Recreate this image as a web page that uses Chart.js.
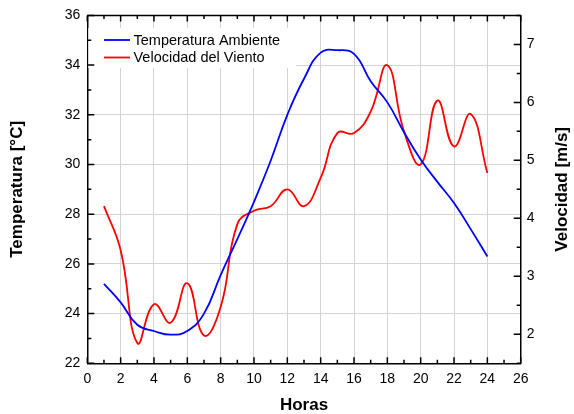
<!DOCTYPE html>
<html>
<head>
<meta charset="utf-8">
<script src="https://cdn.jsdelivr.net/npm/chart.js@4"></script>
<style>
  html, body { margin: 0; padding: 0; background: #fff; }
  #wrap { width: 574px; height: 414px; }
</style>
</head>
<body>
<div id="wrap"><canvas id="chart"></canvas></div>
<script>
const horas = [1, 2, 3, 4, 5, 6, 7, 8, 9, 10, 11, 12, 13, 14, 15, 16, 17, 18, 19, 20, 21, 22, 23, 24];
const temperatura = [25.2, 24.45, 23.55, 23.3, 23.15, 23.3, 24.0, 25.55, 27.0, 28.5, 30.15, 32.0,
  33.45, 34.5, 34.6, 34.45, 33.35, 32.5, 31.3, 30.2, 29.3, 28.45, 27.4, 26.3];
const velocidad = [4.21, 3.45, 1.85, 2.52, 2.2, 2.88, 1.98, 2.47, 3.9, 4.13, 4.21, 4.5,
  4.21, 4.7, 5.47, 5.47, 5.84, 6.64, 5.5, 4.93, 6.03, 5.24, 5.8, 4.78];
const ticksVelocidad = [2, 3, 4, 5, 6, 7];
const leyenda = ["Temperatura Ambiente", "Velocidad del Viento"];
const colores = ["#0000ff", "#ff0000"];

const FONT = "'Liberation Sans', Arial, sans-serif";

function pts(ys) {
  return horas.map((h, i) => ({ x: h, y: ys[i] }));
}

function range(a, b, step) {
  const out = [];
  for (let v = a; v <= b + 1e-9; v += step) out.push(v);
  return out;
}

// inward tick marks, top frame line, legend and axis titles
const frame = {
  id: "frame",
  beforeDatasetsDraw(chart) {
    const ctx = chart.ctx;
    ctx.save();
    ctx.fillStyle = "#fff";
    ctx.fillRect(chart.chartArea.left + 1, 28, 296 - chart.chartArea.left - 1, 40);
    ctx.restore();
  },
  afterDraw(chart) {
    const { ctx, chartArea: a, scales } = chart;
    ctx.save();
    ctx.strokeStyle = "#000";
    ctx.lineWidth = 1.5;

    ctx.beginPath();
    ctx.moveTo(a.left, a.top);
    ctx.lineTo(a.right, a.top);
    ctx.stroke();

    const mark = (vals, len, fn) => {
      ctx.beginPath();
      vals.forEach(v => fn(v, len));
      ctx.stroke();
    };
    const xT = (v, len) => {
      const px = scales.x.getPixelForValue(v);
      ctx.moveTo(px, a.bottom); ctx.lineTo(px, a.bottom - len);
      ctx.moveTo(px, a.top); ctx.lineTo(px, a.top + len);
    };
    const yT = (v, len) => {
      const py = scales.y.getPixelForValue(v);
      ctx.moveTo(a.left, py); ctx.lineTo(a.left + len, py);
    };
    const y1T = (v, len) => {
      const py = scales.y1.getPixelForValue(v);
      ctx.moveTo(a.right, py); ctx.lineTo(a.right - len, py);
    };
    mark(range(0, 26, 2), 6, xT);
    mark(range(1, 25, 2), 3.5, xT);
    mark(range(22, 36, 2), 7, yT);
    mark(range(23, 35, 2), 4, yT);
    mark(ticksVelocidad, 7, y1T);
    mark(range(1.5, 7.5, 1), 4, y1T);

    // legend
    const ly = [40, 57.5];
    leyenda.forEach((t, i) => {
      ctx.strokeStyle = colores[i];
      ctx.lineWidth = 1.8;
      ctx.beginPath();
      ctx.moveTo(104, ly[i]);
      ctx.lineTo(130, ly[i]);
      ctx.stroke();
      ctx.fillStyle = "#000";
      ctx.font = "14.5px " + FONT;
      ctx.textAlign = "left";
      ctx.textBaseline = "middle";
      ctx.fillText(t, 133.5, ly[i] + 0.5);
    });

    // axis titles
    ctx.fillStyle = "#000";
    ctx.font = "bold 17px " + FONT;
    ctx.textAlign = "center";
    ctx.textBaseline = "middle";
    const cy = (a.top + a.bottom) / 2;
    ctx.fillText("Horas", (a.left + a.right) / 2, 405);
    ctx.save();
    ctx.translate(17, cy);
    ctx.rotate(-Math.PI / 2);
    ctx.fillText("Temperatura [°C]", 0, 0);
    ctx.restore();
    ctx.save();
    ctx.translate(562, cy);
    ctx.rotate(-Math.PI / 2);
    ctx.fillText("Velocidad [m/s]", 0, 0);
    ctx.restore();
    ctx.restore();
  }
};

const tickFont = { family: FONT, size: 14 };
const gridColor = "#d3d3d3";

new Chart(document.getElementById("chart"), {
  type: "line",
  data: {
    datasets: [
      {
        label: leyenda[0],
        data: pts(temperatura),
        yAxisID: "y",
        borderColor: colores[0],
        borderWidth: 1.8,
        pointRadius: 0,
        tension: 0.45,
        fill: false
      },
      {
        label: leyenda[1],
        data: pts(velocidad),
        yAxisID: "y1",
        borderColor: colores[1],
        borderWidth: 1.8,
        pointRadius: 0,
        tension: 0.45,
        fill: false
      }
    ]
  },
  options: {
    responsive: true,
    maintainAspectRatio: false,
    animation: false,
    devicePixelRatio: 1,
    layout: { padding: { top: 13.3, left: 0, right: 0, bottom: 0 } },
    plugins: { legend: { display: false }, tooltip: { enabled: false } },
    scales: {
      x: {
        type: "linear",
        min: 0, max: 26,
        afterFit: s => { s.height = 50.7; },
        ticks: { stepSize: 2, color: "#000", font: tickFont, padding: 7, maxRotation: 0 },
        grid: { color: gridColor, drawTicks: false },
        border: { color: "#000", width: 1.5 }
      },
      y: {
        position: "left",
        min: 22, max: 36,
        afterFit: s => { s.width = 87.3; },
        ticks: { stepSize: 2, color: "#000", font: tickFont, padding: 7 },
        grid: { color: gridColor, drawTicks: false },
        border: { color: "#000", width: 1.5 }
      },
      y1: {
        position: "right",
        min: 1.5, max: 7.5,
        afterFit: s => { s.width = 53.3; },
        afterBuildTicks: s => { s.ticks = ticksVelocidad.map(v => ({ value: v })); },
        ticks: { color: "#000", font: tickFont, padding: 6 },
        grid: { drawOnChartArea: false, drawTicks: false },
        border: { color: "#000", width: 1.5 }
      }
    }
  },
  plugins: [frame]
});
</script>
</body>
</html>
